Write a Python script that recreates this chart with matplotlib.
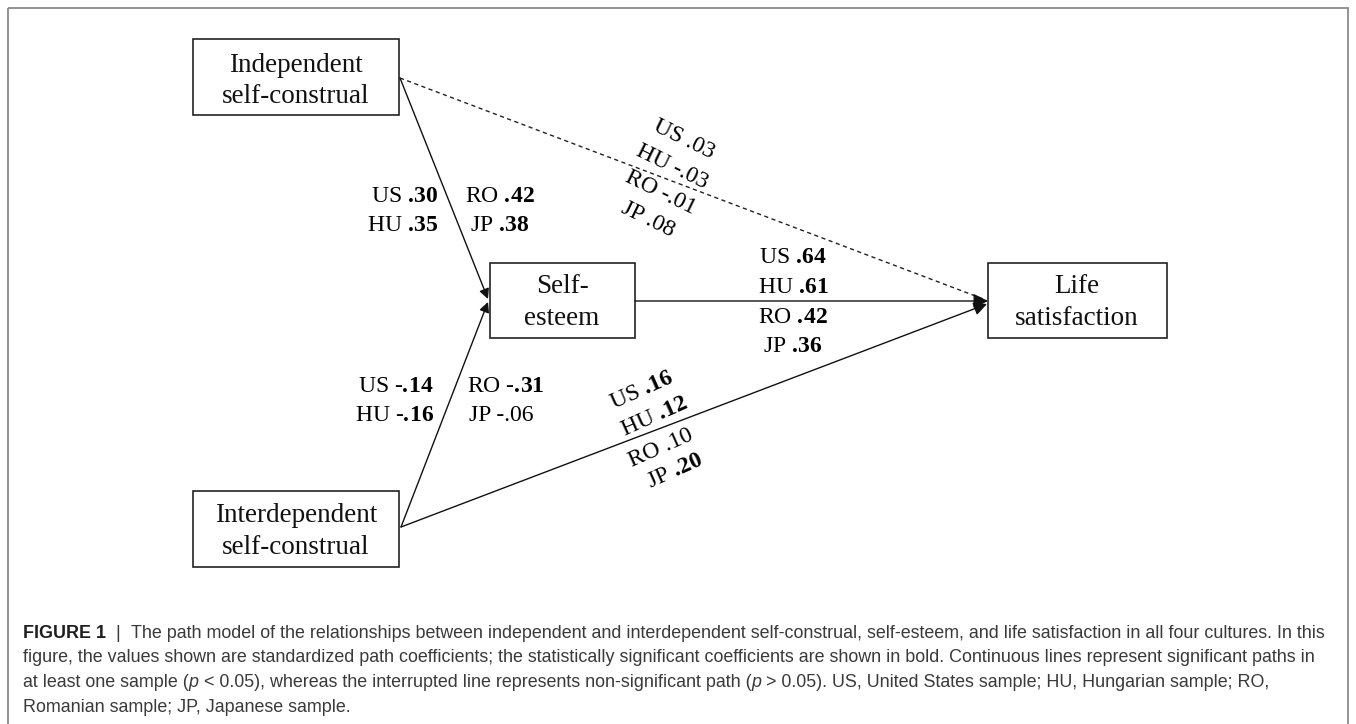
import matplotlib
matplotlib.use('Agg')
import matplotlib.pyplot as plt
from matplotlib.patches import Rectangle

# countries in the order the coefficients are listed on each path
countries = ['US', 'HU', 'RO', 'JP']

# standardized path coefficients + significance (bold = significant)
ind_to_se = ['.30', '.35', '.42', '.38']
ind_to_se_sig = [True, True, True, True]
int_to_se = ['-.14', '-.16', '-.31', '-.06']
int_to_se_sig = [True, True, True, False]
se_to_ls = ['.64', '.61', '.42', '.36']
se_to_ls_sig = [True, True, True, True]
ind_to_ls = ['.03', '-.03', '-.01', '.08']
ind_to_ls_sig = [False, False, False, False]
int_to_ls = ['.16', '.12', '.10', '.20']
int_to_ls_sig = [True, True, False, True]

node_ind = ['Independent', 'self-construal']
node_se = ['Self-', 'esteem']
node_ls = ['Life', 'satisfaction']
node_int = ['Interdependent', 'self-construal']

caption_lines = [
    'The path model of the relationships between independent and interdependent self-construal, self-esteem, and life satisfaction in all four cultures. In this',
    'figure, the values shown are standardized path coefficients; the statistically significant coefficients are shown in bold. Continuous lines represent significant paths in',
    ['at least one sample (', 'p', ' < 0.05), whereas the interrupted line represents non-significant path (', 'p',
     ' > 0.05). US, United States sample; HU, Hungarian sample; RO,'],
    'Romanian sample; JP, Japanese sample.',
]

plt.rcParams['font.family'] = 'Liberation Serif'
plt.rcParams['mathtext.fontset'] = 'custom'
plt.rcParams['mathtext.rm'] = 'Liberation Serif'
plt.rcParams['mathtext.bf'] = 'Liberation Serif:bold'
plt.rcParams['mathtext.it'] = 'Liberation Serif:italic'


def coef(c, v, sig):
    if not sig:
        return c + ' ' + v
    neg = v.startswith('-')
    v = v.lstrip('-')
    # \! cancels the space mathtext puts after a leading dot
    num = '$\\mathbf{.\\!' + v[1:] + '}$'
    return c + (' -' if neg else ' ') + num


fig = plt.figure(figsize=(13.56, 7.24), dpi=100)
ax = fig.add_axes([0, 0, 1, 1])
ax.set_xlim(0, 1356)
ax.set_ylim(724, 0)
ax.axis('off')

# outer frame (runs off the bottom edge)
ax.add_patch(Rectangle((8, 8), 1340, 760, fill=False, ec='#8a8a8a', lw=1.3))

# boxes
boxes = [(193, 39, 399, 115), (490, 263, 635, 338), (988, 263, 1167, 338), (193, 491, 399, 567)]
for x0, y0, x1, y1 in boxes:
    ax.add_patch(Rectangle((x0, y0), x1 - x0, y1 - y0, fill=False, ec='#222222', lw=1.2))

fs_box = 19.5
for lines, x, ys in [(node_ind, 296, (72, 103)), (node_se, 562, (293, 325)),
                     (node_ls, 1077, (293, 325)), (node_int, 296, (522, 554))]:
    for s, y in zip(lines, ys):
        ax.text(x, y, s, ha='center', va='baseline', fontsize=fs_box, color='#111111')

# paths
def arrow(p0, p1, ms):
    ax.annotate('', xy=p1, xytext=p0,
                arrowprops=dict(arrowstyle='-|>', color='#111111', lw=1.0,
                                mutation_scale=ms, shrinkA=0, shrinkB=0))

arrow((400, 78), (488, 299), 15)
arrow((401, 527), (488, 302), 15)
arrow((401, 527), (987, 304), 20)
ax.plot([400, 986], [78, 300], color='#222222', lw=1.0, linestyle=(0, (3, 2.5)))
arrow((635, 301), (988, 301), 22)

fs = 17
# independent -> self-esteem
for i, y in zip([0, 1], [202, 231]):
    ax.text(438, y, coef(countries[i], ind_to_se[i], ind_to_se_sig[i]), ha='right', va='baseline', fontsize=fs)
for i, (x, y) in zip([2, 3], [(465, 202), (470, 231)]):
    ax.text(x, y, coef(countries[i], ind_to_se[i], ind_to_se_sig[i]), ha='left', va='baseline', fontsize=fs)

# interdependent -> self-esteem
for i, y in zip([0, 1], [392, 421]):
    ax.text(434, y, coef(countries[i], int_to_se[i], int_to_se_sig[i]), ha='right', va='baseline', fontsize=fs)
for i, (x, y) in zip([2, 3], [(467, 392), (469, 421)]):
    ax.text(x, y, coef(countries[i], int_to_se[i], int_to_se_sig[i]), ha='left', va='baseline', fontsize=fs)

# self-esteem -> life satisfaction
for i, y in enumerate([263, 293, 323, 352]):
    ax.text(793, y, coef(countries[i], se_to_ls[i], se_to_ls_sig[i]), ha='center', va='baseline', fontsize=fs)

# independent -> life satisfaction (dashed)
for i, (x, y) in enumerate([(684, 139), (672, 167), (661, 193), (648, 219)]):
    ax.text(x, y, coef(countries[i], ind_to_ls[i], ind_to_ls_sig[i]), ha='center', va='center',
            rotation=-26, rotation_mode='anchor', fontsize=fs)

# interdependent -> life satisfaction
for i, (x, y) in enumerate([(642, 390), (654, 417), (661, 448), (675, 471)]):
    ax.text(x, y, coef(countries[i], int_to_ls[i], int_to_ls_sig[i]), ha='center', va='center',
            rotation=24, rotation_mode='anchor', fontsize=fs)

# caption
cfs = 12.9
cap = dict(fontsize=cfs, family='Liberation Sans', color='#3a3a3a')
t = ax.text(23, 638, 'FIGURE 1', va='baseline', fontweight='bold', fontsize=cfs,
            family='Liberation Sans', color='#1e1e1e')
t = ax.annotate('  |  ', xy=(1, 0), xycoords=t, va='bottom', ha='left', **cap)
ax.annotate(caption_lines[0], xy=(1, 0), xycoords=t, va='bottom', ha='left', **cap)
ax.text(23, 662.5, caption_lines[1], va='baseline', **cap)
parts = caption_lines[2]
t = ax.text(23, 687, parts[0], va='baseline', **cap)
for k, s in enumerate(parts[1:]):
    t = ax.annotate(s, xy=(1, 0), xycoords=t, va='bottom', ha='left',
                    style='italic' if s == 'p' else 'normal', **cap)
ax.text(23, 711.5, caption_lines[3], va='baseline', **cap)

fig.savefig('out.png', dpi=100, facecolor='white')
